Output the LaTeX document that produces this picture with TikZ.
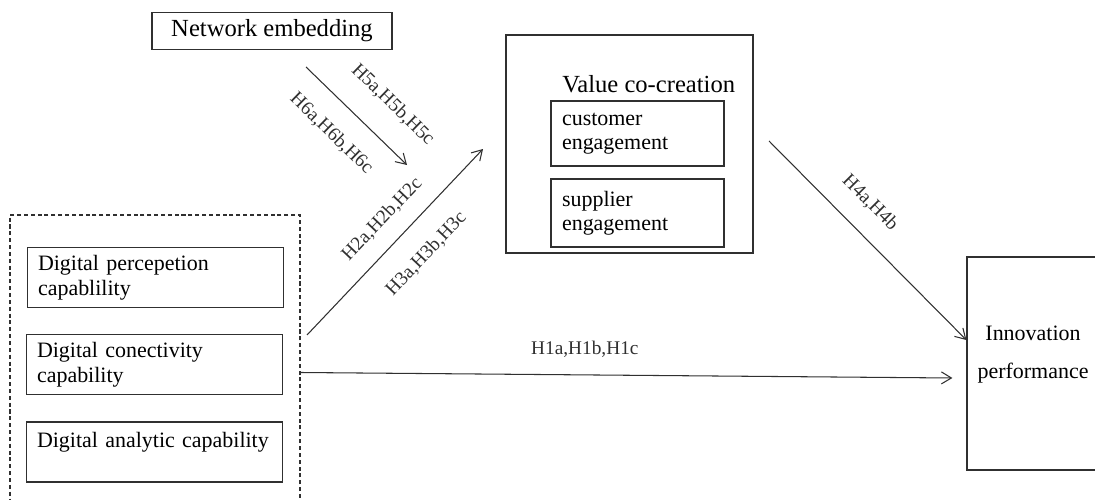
\documentclass[tikz,border=0pt]{standalone}
\usepackage{fontspec}
\setmainfont{Liberation Serif}
\usetikzlibrary{arrows.meta, positioning, fit, calc}
\definecolor{edge}{HTML}{303030}
\tikzset{
  block/.style={rectangle, draw=edge, line width=0.7pt, inner sep=0pt,
    font=\fontsize{14}{17}\selectfont},
  capblock/.style={block, minimum width=5.12cm, minimum height=1.2cm, text width=4.7cm,
    inner xsep=0.21cm, align=left, font=\fontsize{12.5}{14.2}\selectfont},
  subblock/.style={block, text width=3.02cm, inner xsep=0.22cm, align=left,
    font=\fontsize{12.5}{13.4}\selectfont},
  dashblock/.style={rectangle, draw=edge, line width=0.8pt, dash pattern=on 2.3pt off 1.6pt, inner sep=0pt},
  arrow/.style={-{Straight Barb[length=2mm, width=2.4mm]}, line width=0.6pt, edge},
  hyp/.style={font=\fontsize{11}{13}\selectfont, inner sep=1pt},
}

\begin{document}
\begin{tikzpicture}[x=0.02cm, y=-0.02cm]
\useasboundingbox (0,0) rectangle (1095,500);
\clip (0,0) rectangle (1095,500);
\node[block, minimum width=4.8cm, minimum height=0.74cm] (net) at (272,31) {Network embedding};
\node[block, minimum width=4.94cm, minimum height=4.36cm] (vcc) at (629.5,144) {};
\node[anchor=base west, inner sep=0pt, font=\fontsize{14}{17}\selectfont] (vcctitle) at (562,92) {Value co-creation};
\node[subblock, minimum height=1.3cm] (cust) at (637.5,133.5) {customer\\engagement};
\node[subblock, minimum height=1.36cm] (supp) at (637.5,213) {supplier\\engagement};
\node[dashblock, fit={(10,215) (300,530)}] (caps) {};
\node[capblock] (perc) at (155.5,277.5) {Digital percepetion\\capablility};
\node[capblock] (conn) at (154.5,364.5) {Digital conectivity\\capability};
\node[capblock] (anal) at (154.5,452) {Digital analytic capability\\\mbox{}};
\node[block, minimum width=2.66cm, minimum height=4.26cm] (perf) at (1033.5,363.5) {};
\node[align=center, font=\fontsize{12.5}{21.6}\selectfont] (perftext) at (1033,355) {Innovation\\performance};
\coordinate (embA) at (306,67);
\coordinate (embB) at (407,165);
\coordinate (medA) at (307,335);
\coordinate (medB) at (483,149);
\coordinate (outA) at (769,141);
\draw[arrow] (embA) -- (embB)
  node[hyp, sloped, pos=0.63, above=0.46cm] {H5a,H5b,H5c}
  node[hyp, sloped, pos=0.46, below=0.39cm] {H6a,H6b,H6c};
\draw[arrow] (medA) -- (medB)
  node[hyp, sloped, pos=0.53, above=0.29cm] {H2a,H2b,H2c}
  node[hyp, sloped, pos=0.55, below=0.41cm] {H3a,H3b,H3c};
\draw[arrow] (outA) -- ([yshift=0.47cm]perf.west)
  node[hyp, sloped, pos=0.41, above=0.36cm] {H4a,H4b};
\draw[arrow] (caps.east) -- ([xshift=-0.28cm, yshift=-0.29cm]perf.west)
  node[hyp, pos=0.436, above=0.31cm] {H1a,H1b,H1c};
\end{tikzpicture}
\end{document}
